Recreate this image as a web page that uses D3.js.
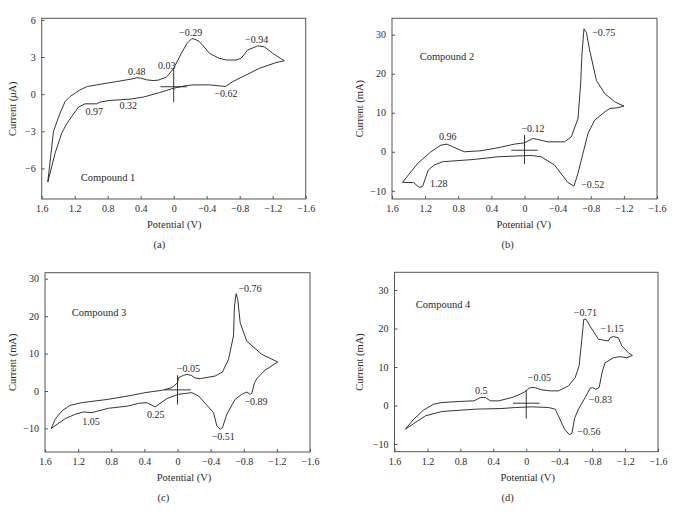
<!DOCTYPE html>
<html>
<head>
<meta charset="utf-8">
<script src="https://cdn.jsdelivr.net/npm/d3@7"></script>
<style>
  html, body { margin: 0; padding: 0; background: #fff; }
  svg { display: block; font-family: "Liberation Serif", "DejaVu Serif", serif; }
</style>
</head>
<body>
<svg id="chart" width="684" height="512"></svg>
<script>
// ---------------- DATA ----------------
const xTicks = [1.6, 1.2, 0.8, 0.4, 0, -0.4, -0.8, -1.2, -1.6];
const xTickLabels = ["1.6", "1.2", "0.8", "0.4", "0", "−0.4", "−0.8", "−1.2", "−1.6"];
const yTicksA = [-6, -3, 0, 3, 6];
const yTickLabelsA = ["−6", "−3", "0", "3", "6"];
const yTicksB = [-10, 0, 10, 20, 30];
const yTickLabelsB = ["−10", "0", "10", "20", "30"];

// Cyclic voltammograms: [potential (V), current]
const compound1 = [
  [1.526,-7.1],[1.457,-3.0],[1.385,-1.66],[1.316,-0.59],[1.256,-0.19],[1.135,0.35],[1.047,0.62],
  [0.934,0.75],[0.692,1.02],[0.53,1.2],[0.45,1.32],[0.40,1.3],[0.33,1.16],[0.25,1.1],[0.19,1.13],
  [0.089,1.37],[0.048,1.69],[0,2.09],[-0.093,3.3],[-0.161,4.1],[-0.221,4.5],[-0.27,4.4],[-0.314,4.24],
  [-0.435,3.3],[-0.55,2.9],[-0.636,2.76],[-0.757,2.76],[-0.817,2.9],[-0.898,3.57],[-1.019,3.91],
  [-1.099,3.83],[-1.2,3.3],[-1.34,2.7],
  [-1.24,2.55],[-1.039,2.09],[-0.878,1.55],[-0.717,1.02],[-0.628,0.62],[-0.435,0.75],[-0.233,0.75],
  [-0.133,0.67],[0,0.48],[0.169,0.13],[0.37,-0.24],[0.531,-0.40],[0.773,-0.51],[0.894,-0.64],
  [0.934,-0.78],[1.075,-0.78],[1.155,-1.05],[1.236,-1.8],[1.296,-2.39],[1.357,-3.14],[1.437,-4.75],
  [1.526,-7.1]
];
const compound2 = [
  [1.473,-7.83],[1.29,-2.98],[1.13,0],[1.009,1.70],[0.936,1.96],[0.868,1.28],[0.726,0],[0.525,0.26],
  [0.323,1.02],[0.121,1.96],[0,2.3],[-0.1,3.4],[-0.161,3.15],[-0.282,2.55],[-0.484,2.55],[-0.565,3.83],
  [-0.646,8.5],[-0.678,17.4],[-0.694,25.1],[-0.718,31.5],[-0.747,30.6],[-0.787,26],[-0.868,18.3],
  [-0.969,14.9],[-1.09,12.8],[-1.2,11.7],
  [-1.13,11.3],[-1.03,11.1],[-0.969,10.2],[-0.847,8.1],[-0.767,4.7],[-0.686,-2.1],[-0.646,-5.5],
  [-0.597,-8.8],[-0.525,-7.9],[-0.363,-3.4],[-0.202,-1.28],[-0.081,-0.94],[0.323,-1.28],[0.605,-1.96],
  [0.989,-2.55],[1.09,-3.4],[1.162,-4.68],[1.231,-8.94],[1.271,-9.1],[1.34,-7.9],[1.473,-7.83]
];
const compound3 = [
  [1.525,-10.0],[1.477,-7.56],[1.396,-5.33],[1.296,-3.82],[1.155,-3.11],[0.833,-2.22],[0.551,-1.16],
  [0.39,-0.44],[0.189,0.18],[0.068,0.89],[0,2.2],[-0.012,3.56],[-0.072,4.18],[-0.113,4.44],[-0.165,4.18],
  [-0.213,3.47],[-0.274,3.29],[-0.455,4.0],[-0.543,5.07],[-0.616,8.44],[-0.676,14.7],[-0.688,22.7],
  [-0.708,26.0],[-0.728,24.4],[-0.757,18.2],[-0.837,13.3],[-1.018,9.78],[-1.211,7.73],
  [-1.058,5.6],[-0.958,3.29],[-0.93,2.2],[-0.897,-0.62],[-0.877,-0.89],[-0.837,-0.27],[-0.777,-0.89],
  [-0.696,-2.22],[-0.596,-6.2],[-0.543,-9.78],[-0.515,-10.2],[-0.475,-9.33],[-0.435,-5.78],
  [-0.254,-1.33],[-0.173,-0.44],[-0.012,-0.89],[0.129,-2.04],[0.27,-4.27],[0.37,-3.11],[0.471,-3.29],
  [0.592,-4.0],[0.833,-4.62],[1.034,-5.78],[1.135,-5.6],[1.235,-6.22],[1.356,-7.38],[1.525,-10.0]
];
const compound4 = [
  [1.467,-6.13],[1.366,-3.54],[1.244,-1.12],[1.123,0.35],[1.022,0.78],[0.82,1.04],[0.638,1.21],
  [0.618,1.38],[0.558,2.07],[0.497,2.07],[0.436,1.21],[0.335,1.21],[0.174,2.07],[0.073,2.94],
  [0.02,3.54],[-0.048,4.66],[-0.101,4.66],[-0.19,4.06],[-0.291,3.8],[-0.392,3.8],[-0.513,5.1],
  [-0.594,7.25],[-0.642,10.3],[-0.675,17.2],[-0.699,22.4],[-0.727,22.4],[-0.776,20.6],[-0.877,17.2],
  [-0.998,16.75],[-1.018,17.6],[-1.059,17.9],[-1.119,17.6],[-1.16,15.5],[-1.24,13.7],[-1.289,13.0],
  [-1.22,12.4],[-1.139,12.7],[-1.059,12.4],[-0.958,11.1],[-0.925,8.98],[-0.885,4.66],[-0.844,4.23],
  [-0.804,4.66],[-0.776,4.49],[-0.715,2.07],[-0.634,-0.95],[-0.586,-3.37],[-0.554,-7.25],[-0.525,-7.6],
  [-0.465,-6.13],[-0.352,-0.95],[-0.271,-0.52],[-0.069,-0.35],[0.133,-0.52],[0.295,-0.78],
  [0.618,-0.95],[1.022,-1.55],[1.224,-2.68],[1.467,-6.13]
];

// Reference crosses: [vertical min, vertical max, horizontal current]
const cross1 = [-0.65, 2.09, 0.6];
const cross2 = [-3.2, 4.3, 0.4];
const cross3 = [-3.6, 4.2, 0.3];
const cross4 = [-3.4, 3.8, 0.6];
const crossHalfWidth = 0.16;

// Peak annotations: [potential, current, text]
const notes1 = [[-0.206,4.97,"−0.29"],[-1.006,4.38,"−0.94"],[0.448,1.82,"0.48"],[0.085,2.3,"0.03"],
  [-0.634,0.07,"−0.62"],[0.55,-0.95,"0.32"],[0.962,-1.36,"0.97"]];
const notes2 = [[-0.957,30.6,"−0.75"],[0.927,3.86,"0.96"],[-0.103,6.0,"−0.12"],[1.036,-8.07,"1.28"],
  [-0.824,-8.5,"−0.52"]];
const notes3 = [[-0.876,27.3,"−0.76"],[-0.131,5.95,"−0.05"],[-0.948,-2.86,"−0.89"],[1.044,-8.1,"1.05"],
  [0.263,-6.34,"0.25"],[-0.553,-12.03,"−0.51"]];
const notes4 = [[-0.718,24.1,"−0.71"],[-1.043,19.95,"−1.15"],[-0.159,7.2,"−0.05"],[0.545,3.77,"0.5"],
  [-0.9,1.6,"−0.83"],[-0.76,-6.88,"−0.56"]];

const compoundNames = ["Compound 1", "Compound 2", "Compound 3", "Compound 4"];
const compoundLabelPos = [[0.796,-6.71],[0.936,24.5],[0.948,20.9],[1.011,26.4]];
const yTitles = ["Current (μA)", "Current (mA)", "Current (mA)", "Current (mA)"];
const captions = ["(a)", "(b)", "(c)", "(d)"];

// ---------------- LAYOUT ----------------
const panels = [
  {data: compound1, cross: cross1, notes: notes1, yTicks: yTicksA, yLabels: yTickLabelsA,
   box: {l: 41.7, r: 305.7, t: 18.3, b: 199}, yDomain: [-8.47, 6.13], titleX: 174.3, capX: 159.3, yTitleX: 12},
  {data: compound2, cross: cross2, notes: notes2, yTicks: yTicksB, yLabels: yTickLabelsB,
   box: {l: 392, r: 657, t: 18.3, b: 199}, yDomain: [-12.1, 34.2], titleX: 523.7, capX: 507.7, yTitleX: 359.3},
  {data: compound3, cross: cross3, notes: notes3, yTicks: yTicksB, yLabels: yTickLabelsB,
   box: {l: 45, r: 310, t: 272.7, b: 452}, yDomain: [-16.3, 31.6], titleX: 184, capX: 163.3, yTitleX: 12},
  {data: compound4, cross: cross4, notes: notes4, yTicks: yTicksB, yLabels: yTickLabelsB,
   box: {l: 394.5, r: 658, t: 272.3, b: 451.7}, yDomain: [-12, 34.6], titleX: 527.7, capX: 507.7, yTitleX: 359.3}
];

const svg = d3.select("#chart");
const textColor = "#2a2a2a";
const lineColor = "#1e1e1e";
const frameColor = "#555";

panels.forEach((p, i) => {
  const {l, r, t, b} = p.box;
  const x = d3.scaleLinear().domain([1.6, -1.6]).range([l, r]);
  const y = d3.scaleLinear().domain(p.yDomain).range([b, t]);
  const g = svg.append("g");

  // frame
  g.append("rect").attr("x", l).attr("y", t).attr("width", r - l).attr("height", b - t)
    .attr("fill", "none").attr("stroke", frameColor).attr("stroke-width", 1);

  // axes
  const xa = g.append("g").attr("transform", `translate(0,${b})`)
    .call(d3.axisBottom(x).tickValues(xTicks).tickFormat((d, k) => xTickLabels[k])
      .tickSizeInner(-3).tickSizeOuter(0).tickPadding(6));
  const ya = g.append("g").attr("transform", `translate(${l},0)`)
    .call(d3.axisLeft(y).tickValues(p.yTicks).tickFormat((d, k) => p.yLabels[k])
      .tickSizeInner(-3).tickSizeOuter(0).tickPadding(6));
  [xa, ya].forEach(a => {
    a.select(".domain").remove();
    a.selectAll("line").attr("stroke", frameColor);
    a.selectAll("text").attr("fill", textColor).style("font-size", "10px")
      .style("font-family", "'Liberation Serif', serif");
  });

  // axis titles
  g.append("text").attr("x", p.titleX).attr("y", b + 25.5).attr("dy", "0.35em")
    .attr("text-anchor", "middle").attr("fill", textColor).style("font-size", "10.5px")
    .text("Potential (V)");
  const yt = g.append("text")
    .attr("transform", `translate(${p.yTitleX},${(t + b) / 2}) rotate(-90)`)
    .attr("dy", "0.35em").attr("text-anchor", "middle").attr("fill", textColor)
    .style("font-size", "10.5px");
  if (i === 0) {
    yt.append("tspan").text("Current (");
    yt.append("tspan").style("font-style", "italic").text("μ");
    yt.append("tspan").text("A)");
  } else {
    yt.text(yTitles[i]);
  }
  g.append("text").attr("x", p.capX).attr("y", b + 45.5).attr("dy", "0.35em")
    .attr("text-anchor", "middle").attr("fill", textColor).style("font-size", "10.5px")
    .text(captions[i]);

  // curve
  const line = d3.line().x(d => x(d[0])).y(d => y(d[1]));
  g.append("path").datum(p.data).attr("d", line)
    .attr("fill", "none").attr("stroke", lineColor).attr("stroke-width", 0.9)
    .attr("stroke-linejoin", "round");

  // reference cross
  g.append("line").attr("x1", x(0)).attr("x2", x(0)).attr("y1", y(p.cross[0])).attr("y2", y(p.cross[1]))
    .attr("stroke", lineColor).attr("stroke-width", 0.9);
  g.append("line").attr("x1", x(crossHalfWidth)).attr("x2", x(-crossHalfWidth))
    .attr("y1", y(p.cross[2])).attr("y2", y(p.cross[2]))
    .attr("stroke", lineColor).attr("stroke-width", 0.9);

  // annotations
  g.selectAll("text.note").data(p.notes).enter().append("text").attr("class", "note")
    .attr("x", d => x(d[0])).attr("y", d => y(d[1])).attr("dy", "0.35em")
    .attr("text-anchor", "middle").attr("fill", textColor).style("font-size", "10px")
    .text(d => d[2]);

  g.append("text").attr("x", x(compoundLabelPos[i][0])).attr("y", y(compoundLabelPos[i][1]))
    .attr("dy", "0.35em").attr("text-anchor", "middle").attr("fill", textColor)
    .style("font-size", "10.5px").text(compoundNames[i]);
});
</script>
</body>
</html>
